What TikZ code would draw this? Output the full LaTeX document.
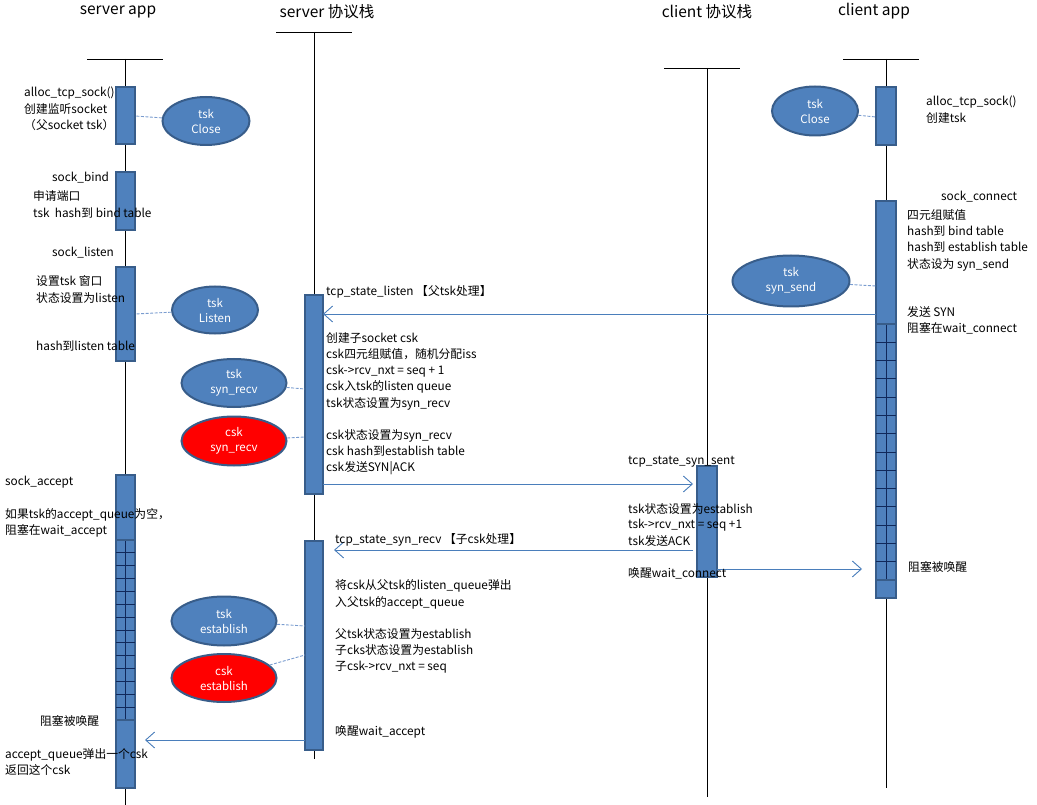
\documentclass[tikz,border=0pt]{standalone}
\usepackage{fontspec}
\setmainfont{Noto Sans CJK SC}
\usetikzlibrary{arrows.meta,shapes.geometric}
\definecolor{boxfill}{HTML}{4F81BD}
\definecolor{boxdraw}{HTML}{385D8A}
\definecolor{msgcol}{HTML}{4A7EBB}
\definecolor{gridcol}{HTML}{10285A}
\definecolor{dashcol}{HTML}{7A9CCF}
\tikzset{
  lifeline/.style={draw=black,line width=0.9pt},
  actbox/.style={fill=boxfill,draw=boxdraw,line width=2pt},
  gridln/.style={draw=gridcol,line width=0.9pt},
  sepln/.style={draw=boxdraw,line width=2pt},
  msg/.style={draw=msgcol,line width=0.9pt,-{Straight Barb[length=9pt,width=16pt,line width=0.9pt]}},
  dashln/.style={draw=dashcol,line width=0.9pt,dash pattern=on 3pt off 1.5pt},
  stateb/.style={ellipse,fill=boxfill,draw=boxdraw,line width=2pt,inner sep=0pt,text=white,align=center,font=\fontsize{11.5}{15}\selectfont},
  stater/.style={stateb,fill=red},
  title/.style={anchor=center,inner sep=0pt,font=\fontsize{15.5}{18}\selectfont},
  txt/.style={anchor=base west,inner sep=0pt,font=\fontsize{11.8}{16}\selectfont},
}
\begin{document}
\begin{tikzpicture}[x=1pt,y=-1pt]
\useasboundingbox (0,0) rectangle (1037,805);
% titles
\node[title] (t1) at (118,12) {server app};
\node[title] (t2) at (327,12) {server 协议栈};
\node[title] (t3) at (707,12) {client 协议栈};
\node[title] (t4) at (874,11) {client app};
% lifelines
\draw[lifeline] (87,59) -- (163,59);
\draw[lifeline] (125.5,59) -- (125.5,805);
\draw[lifeline] (276,32) -- (352,32);
\draw[lifeline] (314,32) -- (314,759);
\draw[lifeline] (664,68) -- (740,68);
\draw[lifeline] (707,68) -- (707,797);
\draw[lifeline] (843,59) -- (919,59);
\draw[lifeline] (886,59) -- (886,788);
% server app boxes
\draw[actbox] (116,87) rectangle (135,144);
\draw[actbox] (116,172) rectangle (135,230);
\draw[actbox] (116,267) rectangle (135,361);
\draw[actbox] (116,475) rectangle (135,788);
\foreach \i in {1,...,13} {\draw[gridln] (116,540+\i*12.857) -- (135,540+\i*12.857);}
\draw[gridln] (125.5,540) -- (125.5,720);
\draw[sepln] (116,540) -- (135,540);
\draw[sepln] (116,720) -- (135,720);
% server stack boxes
\draw[actbox] (305,295) rectangle (323,494);
\draw[actbox] (305,541) rectangle (323,750);
% client stack box
\draw[actbox] (697,466) rectangle (717,577);
% client app boxes
\draw[actbox] (876,87) rectangle (896,145);
\draw[actbox] (876,201) rectangle (896,598);
\foreach \i in {1,...,13} {\draw[gridln] (876,324+\i*18.286) -- (896,324+\i*18.286);}
\draw[gridln] (886,324) -- (886,580);
\draw[sepln] (876,324) -- (896,324);
\draw[sepln] (876,580) -- (896,580);
% states
\node[stateb,minimum width=87pt,minimum height=48pt] (e1) at (206,121) {tsk\\Close};
\node[stateb,minimum width=86pt,minimum height=49pt] (e2) at (815,111) {tsk\\Close};
\node[stateb,minimum width=86pt,minimum height=47pt] (e3) at (215,310) {tsk\\Listen};
\node[stateb,minimum width=117pt,minimum height=51pt] (e4) at (791,281) {tsk\\syn\_send};
\node[stateb,minimum width=105pt,minimum height=48pt] (e5) at (234,383) {tsk\\syn\_recv};
\node[stater,minimum width=105pt,minimum height=49pt] (e6) at (234,441) {csk\\syn\_recv};
\node[stateb,minimum width=105pt,minimum height=49pt] (e7) at (224,621) {tsk\\establish};
\node[stater,minimum width=105pt,minimum height=48pt] (e8) at (224,678) {csk\\establish};
\coordinate (b1) at (135,116);
\coordinate (b2) at (876,117);
\coordinate (b3) at (135,314);
\coordinate (b4) at (876,286);
\coordinate (b5) at (305,389);
\coordinate (b6) at (305,437);
\coordinate (b7) at (305,626);
\coordinate (b8) at (305,655);
\draw[dashln] (e1) -- (b1);
\draw[dashln] (e2) -- (b2);
\draw[dashln] (e3) -- (b3);
\draw[dashln] (e4) -- (b4);
\draw[dashln] (e5) -- (b5);
\draw[dashln] (e6) -- (b6);
\draw[dashln] (e7) -- (b7);
\draw[dashln] (e8) -- (b8);
% messages
\coordinate (m1s) at (876,314); \coordinate (m1e) at (323,314);
\coordinate (m2s) at (323,484); \coordinate (m2e) at (693,484);
\coordinate (m3s) at (693,550); \coordinate (m3e) at (334,550);
\coordinate (m4s) at (717,569); \coordinate (m4e) at (862,569);
\coordinate (m5s) at (305,740); \coordinate (m5e) at (145,740);
\draw[msg] (m1s) -- (m1e);
\draw[msg] (m2s) -- (m2e);
\draw[msg] (m3s) -- (m3e);
\draw[msg] (m4s) -- (m4e);
\draw[msg] (m5s) -- (m5e);
% server app texts
\node[txt] (s1) at (24,97) {alloc\_tcp\_sock()};
\node[txt] (s2) at (24,113.5) {创建监听socket};
\node[txt] (s3) at (24,130) {（父socket tsk）};
\node[txt] (s4) at (52,181.5) {sock\_bind};
\node[txt] (s5) at (33,200.5) {申请端口};
\node[txt] (s6) at (33,217.5) {tsk\ \ hash到 bind table};
\node[txt] (s7) at (52,256.5) {sock\_listen};
\node[txt] (s8) at (36,285.5) {设置tsk 窗口};
\node[txt] (s9) at (36,302.5) {状态设置为listen};
\node[txt] (s10) at (36,350.5) {hash到listen table};
\node[txt] (s11) at (5,485.5) {sock\_accept};
\node[txt] (s12) at (5,518.5) {如果tsk的accept\_queue为空，};
\node[txt] (s13) at (5,534.5) {阻塞在wait\_accept};
\node[txt] (s14) at (40,725.5) {阻塞被唤醒};
\node[txt] (s15) at (5,758.5) {accept\_queue弹出一个csk};
\node[txt] (s16) at (5,774.5) {返回这个csk};
% server stack texts
\node[txt] (p1) at (326,295.5) {tcp\_state\_listen 【父tsk处理】};
\node[txt] (p2) at (326,342.5) {创建子socket csk};
\node[txt] (p3) at (326,358.5) {csk四元组赋值，随机分配iss};
\node[txt] (p4) at (326,374.5) {csk->rcv\_nxt = seq + 1};
\node[txt] (p5) at (326,390.5) {csk入tsk的listen queue};
\node[txt] (p6) at (326,407) {tsk状态设置为syn\_recv};
\node[txt] (p7) at (326,439.5) {csk状态设置为syn\_recv};
\node[txt] (p8) at (326,455.5) {csk hash到establish table};
\node[txt] (p9) at (326,471.5) {csk发送SYN|ACK};
\node[txt] (p10) at (335,543.5) {tcp\_state\_syn\_recv 【子csk处理】};
\node[txt] (p11) at (335,589.5) {将csk从父tsk的listen\_queue弹出};
\node[txt] (p12) at (335,606) {入父tsk的accept\_queue};
\node[txt] (p13) at (335,638.5) {父tsk状态设置为establish};
\node[txt] (p14) at (335,654.5) {子cks状态设置为establish};
\node[txt] (p15) at (335,670.5) {子csk->rcv\_nxt = seq};
\node[txt] (p16) at (335,735.5) {唤醒wait\_accept};
% client stack texts
\node[txt] (c1) at (628,464.5) {tcp\_state\_syn\_sent};
\node[txt] (c2) at (628,513.5) {tsk状态设置为establish};
\node[txt] (c3) at (628,528.5) {tsk->rcv\_nxt = seq +1};
\node[txt] (c4) at (628,545.5) {tsk发送ACK};
\node[txt] (c5) at (628,577.5) {唤醒wait\_connect};
% client app texts
\node[txt] (a1) at (926,105.5) {alloc\_tcp\_sock()};
\node[txt] (a2) at (926,122.5) {创建tsk};
\node[txt] (a3) at (941,200.5) {sock\_connect};
\node[txt] (a4) at (907,219.5) {四元组赋值};
\node[txt] (a5) at (907,236) {hash到 bind table};
\node[txt] (a6) at (907,252) {hash到 establish table};
\node[txt] (a7) at (907,268.5) {状态设为 syn\_send};
\node[txt] (a8) at (907,316.5) {发送 SYN};
\node[txt] (a9) at (907,332.5) {阻塞在wait\_connect};
\node[txt] (a10) at (908,571.5) {阻塞被唤醒};
\end{tikzpicture}
\end{document}
